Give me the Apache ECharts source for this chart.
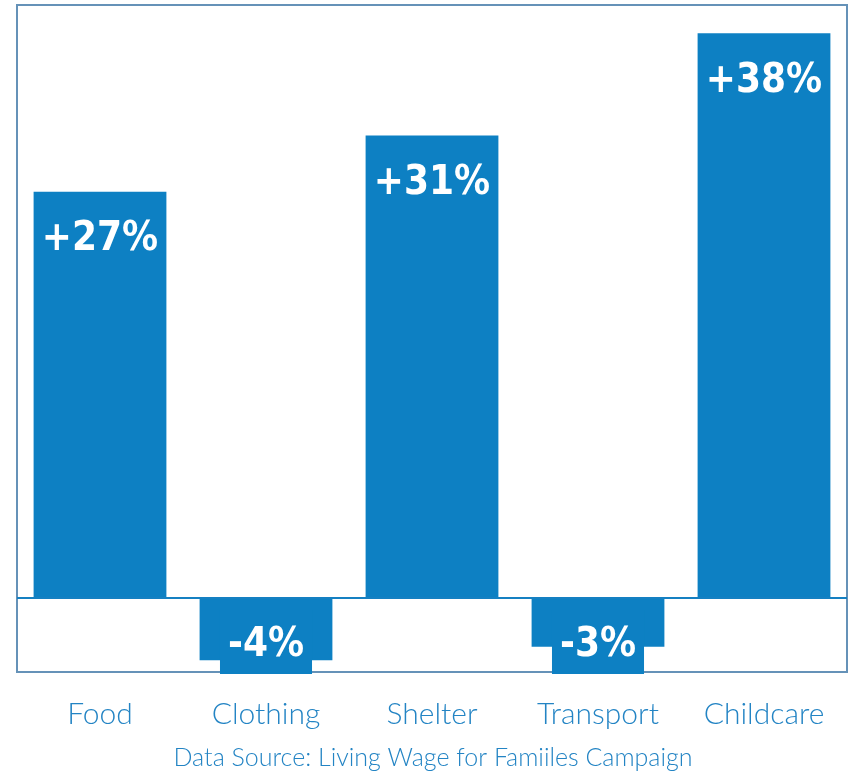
<!DOCTYPE html>
<html>
<head>
<meta charset="utf-8">
<script src="https://cdn.jsdelivr.net/npm/echarts@6/dist/echarts.min.js"></script>
<style>html,body{margin:0;padding:0;background:#fff}#c{width:852px;height:775px}</style>
</head>
<body>
<div id="c"></div>
<script>
const categories = ['Food', 'Clothing', 'Shelter', 'Transport', 'Childcare'];
const changes = [27.4, -4.2, 31.2, -3.3, 38.1];
const sourceText = 'Data Source: Living Wage for Famiiles Campaign';

const BLUE = '#0d80c3';
const chart = echarts.init(document.getElementById('c'));
chart.setOption({
  animation: false,
  grid: {
    left: 17, right: 5, top: 5, bottom: 103,
    show: true, borderColor: '#6592b8', borderWidth: 2, backgroundColor: '#fff'
  },
  xAxis: {
    type: 'category',
    data: categories,
    axisLine: { show: false },
    axisTick: { show: false },
    axisLabel: {
      color: '#2384c4', fontSize: 30, fontFamily: 'Lato', fontWeight: 300, margin: 27
    }
  },
  yAxis: {
    type: 'value', min: -5, max: 40,
    show: false, splitLine: { show: false }
  },
  graphic: [{
    type: 'text', x: 433, y: 745,
    style: { text: sourceText, fill: '#2384c4', fontSize: 25, fontFamily: 'Lato', fontWeight: 300, textAlign: 'center' }
  }],
  series: [{
    type: 'bar',
    data: changes.map(v => ({ value: v, label: v < 0 ? { backgroundColor: BLUE } : {} })),
    barCategoryGap: '20%',
    itemStyle: { color: BLUE },
    label: {
      show: true,
      position: 'insideTop',
      distance: 12,
      formatter: p => (p.value > 0 ? '+' : '') + Math.round(p.value) + '%',
      color: '#fff',
      fontSize: 40,
      fontFamily: 'DejaVu Sans Condensed',
      fontWeight: 'bold',
      lineHeight: 40,
      padding: [16, 8, 8, 8]
    },
    markLine: {
      silent: true,
      symbol: 'none',
      label: { show: false },
      lineStyle: { color: '#1580c2', width: 2, type: 'solid' },
      data: [{ yAxis: 0 }]
    }
  }]
});
</script>
</body>
</html>
